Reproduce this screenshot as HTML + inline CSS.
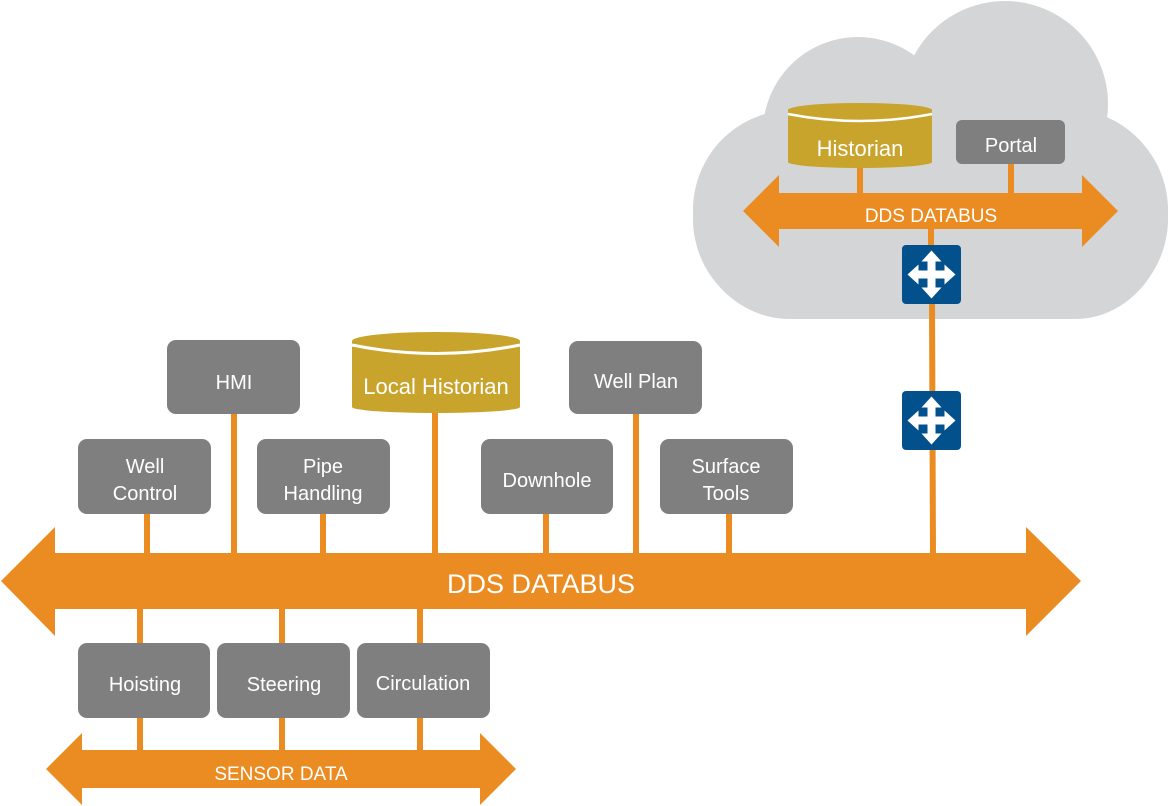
<!DOCTYPE html>
<html><head><meta charset="utf-8"><style>
html,body{margin:0;padding:0;background:#fff;}
svg{display:block;}
text{font-family:"Liberation Sans",sans-serif;fill:#fff;}
</style></head><body>
<svg width="1169" height="806" viewBox="0 0 1169 806" xmlns="http://www.w3.org/2000/svg">
<!-- cloud -->
<g fill="#d4d5d7">
<circle cx="1005" cy="104" r="103"/>
<circle cx="858" cy="132" r="95"/>
<rect x="693" y="110" width="475" height="209" rx="100"/>
<ellipse cx="790" cy="215" rx="97" ry="104"/>
<ellipse cx="1075" cy="215" rx="93" ry="104"/>
</g>
<!-- connectors -->
<g stroke="#eb8c23" stroke-width="6" fill="none">
<line x1="147" y1="514" x2="147" y2="555"/>
<line x1="234" y1="414" x2="234" y2="555"/>
<line x1="323" y1="514" x2="323" y2="555"/>
<line x1="435" y1="410" x2="435" y2="555"/>
<line x1="546" y1="514" x2="546" y2="555"/>
<line x1="636" y1="414" x2="636" y2="555"/>
<line x1="729" y1="514" x2="729" y2="555"/>
<line x1="932" y1="300" x2="933" y2="555"/>
<line x1="140" y1="607" x2="140" y2="752"/>
<line x1="282" y1="607" x2="282" y2="752"/>
<line x1="420" y1="607" x2="420" y2="752"/>
<line x1="860" y1="165" x2="860" y2="195"/>
<line x1="1011" y1="164" x2="1011" y2="195"/>
<line x1="931" y1="227" x2="931" y2="250"/>
</g>
<!-- buses -->
<g fill="#eb8c23">
<polygon points="1,581 55,527 55,553 1026,553 1026,527 1081,581 1026,636 1026,609 55,609 55,636"/>
<polygon points="46,769 82,733 82,750 480,750 480,733 516,769 480,805 480,788 82,788 82,805"/>
<polygon points="743,211 779,175 779,193 1082,193 1082,175 1118,211 1082,247 1082,229 779,229 779,247"/>
</g>
<text x="541" y="593" font-size="27" text-anchor="middle">DDS DATABUS</text>
<text x="281" y="780" font-size="19" text-anchor="middle">SENSOR DATA</text>
<text x="931" y="222" font-size="19" text-anchor="middle">DDS DATABUS</text>
<!-- boxes -->
<g fill="#7f7f7f">
<rect x="167" y="340" width="133" height="74" rx="9"/>
<rect x="569" y="341" width="133" height="73" rx="9"/>
<rect x="78" y="439" width="133" height="75" rx="9"/>
<rect x="257" y="439" width="133" height="75" rx="9"/>
<rect x="481" y="439" width="132" height="75" rx="9"/>
<rect x="660" y="439" width="133" height="75" rx="9"/>
<rect x="78" y="643" width="132" height="75" rx="9"/>
<rect x="217" y="643" width="133" height="75" rx="9"/>
<rect x="357" y="643" width="133" height="75" rx="9"/>
<rect x="956" y="120" width="109" height="44" rx="6"/>
</g>
<g font-size="20" text-anchor="middle">
<text x="234" y="389">HMI</text>
<text x="636" y="388">Well Plan</text>
<text x="145" y="473">Well</text><text x="145" y="500">Control</text>
<text x="323" y="473">Pipe</text><text x="323" y="500">Handling</text>
<text x="547" y="487">Downhole</text>
<text x="726" y="473">Surface</text><text x="726" y="500">Tools</text>
<text x="145" y="691">Hoisting</text>
<text x="284" y="691">Steering</text>
<text x="423" y="690">Circulation</text>
<text x="1011" y="152">Portal</text>
</g>
<!-- cylinders -->
<g fill="#c9a42d">
<rect x="352" y="341" width="168" height="66"/>
<ellipse cx="436" cy="407" rx="84" ry="6"/>
<ellipse cx="436" cy="341" rx="84" ry="9"/>
<rect x="788" y="110" width="144" height="52"/>
<ellipse cx="860" cy="162" rx="72" ry="6"/>
<ellipse cx="860" cy="110" rx="72" ry="7"/>
</g>
<path d="M352 345 Q436 362 520 345" stroke="#fff" stroke-width="3" fill="none"/>
<path d="M788 114 Q860 128 932 114" stroke="#fff" stroke-width="2.5" fill="none"/>
<text x="436" y="394" font-size="22" text-anchor="middle">Local Historian</text>
<text x="860" y="156" font-size="22" text-anchor="middle">Historian</text>
<!-- routers -->
<rect x="902" y="245" width="59" height="59" rx="4" fill="#03518c"/>
<g fill="#fff" transform="translate(931.5,274.5)">
<polygon points="0,-24 -10,-13 -4,-13 -4,-4 -13,-4 -13,-10 -24,0 -13,10 -13,4 -4,4 -4,13 -10,13 0,24 10,13 4,13 4,4 13,4 13,10 24,0 13,-10 13,-4 4,-4 4,-13 10,-13"/>
</g>
<rect x="902" y="391" width="59" height="59" rx="4" fill="#03518c"/>
<g fill="#fff" transform="translate(931.5,420.5)">
<polygon points="0,-24 -10,-13 -4,-13 -4,-4 -13,-4 -13,-10 -24,0 -13,10 -13,4 -4,4 -4,13 -10,13 0,24 10,13 4,13 4,4 13,4 13,10 24,0 13,-10 13,-4 4,-4 4,-13 10,-13"/>
</g>
</svg>
</body></html>
